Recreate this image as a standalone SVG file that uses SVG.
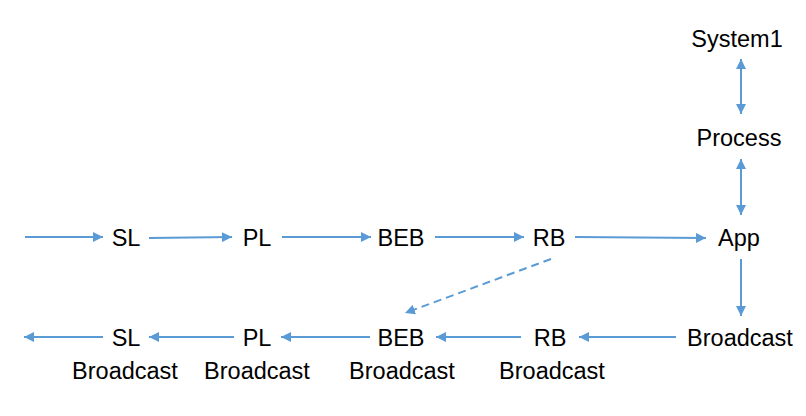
<svg xmlns="http://www.w3.org/2000/svg" width="806" height="416" viewBox="0 0 806 416">
<style>
text{font-family:"Liberation Sans",Arial,sans-serif;font-size:23.5px;fill:#000;text-anchor:middle}
.c line{stroke:#5b9bd5;stroke-width:2;fill:none}
.d{stroke-dasharray:8,5}
</style>
<defs>
<marker id="ah" viewBox="0 0 10 10" refX="10" refY="5" markerWidth="5" markerHeight="5" orient="auto-start-reverse" markerUnits="strokeWidth">
<path d="M0,0 L10,5 L0,10 z" fill="#5b9bd5"/>
</marker>
</defs>
<rect width="806" height="416" fill="#fff"/>
<g class="c" id="connectors">
<line x1="25" y1="237" x2="103" y2="237" marker-end="url(#ah)"/>
<line x1="149" y1="238" x2="232" y2="237" marker-end="url(#ah)"/>
<line x1="282" y1="237" x2="371" y2="237" marker-end="url(#ah)"/>
<line x1="435" y1="237" x2="524" y2="237" marker-end="url(#ah)"/>
<line x1="575" y1="237" x2="706" y2="238" marker-end="url(#ah)"/>
<line x1="741" y1="59" x2="741" y2="114" marker-start="url(#ah)" marker-end="url(#ah)"/>
<line x1="741" y1="159" x2="741" y2="215" marker-start="url(#ah)" marker-end="url(#ah)"/>
<line x1="741" y1="259" x2="741" y2="316" marker-end="url(#ah)"/>
<line x1="676" y1="337" x2="579" y2="337" marker-end="url(#ah)"/>
<line x1="521" y1="337" x2="436" y2="337" marker-end="url(#ah)"/>
<line x1="370" y1="337" x2="281" y2="337" marker-end="url(#ah)"/>
<line x1="234" y1="337" x2="149" y2="337" marker-end="url(#ah)"/>
<line x1="103" y1="337" x2="24" y2="337" marker-end="url(#ah)"/>
<line class="d" x1="551" y1="259" x2="405" y2="313" marker-end="url(#ah)"/>
</g>
<g id="system1"><text x="737" y="47">System1</text></g>
<g id="process"><text x="739" y="146">Process</text></g>
<g id="sl"><text x="126" y="246">SL</text></g>
<g id="pl"><text x="257" y="246">PL</text></g>
<g id="beb"><text x="401" y="246">BEB</text></g>
<g id="rb"><text x="549" y="246">RB</text></g>
<g id="app"><text x="739" y="246">App</text></g>
<g id="broadcast"><text x="740" y="346">Broadcast</text></g>
<g id="rb-broadcast"><text x="550" y="346">RB</text><text x="552" y="379">Broadcast</text></g>
<g id="beb-broadcast"><text x="401" y="346">BEB</text><text x="402" y="379">Broadcast</text></g>
<g id="pl-broadcast"><text x="257" y="346">PL</text><text x="257" y="379">Broadcast</text></g>
<g id="sl-broadcast"><text x="126" y="346">SL</text><text x="125" y="379">Broadcast</text></g>
</svg>
